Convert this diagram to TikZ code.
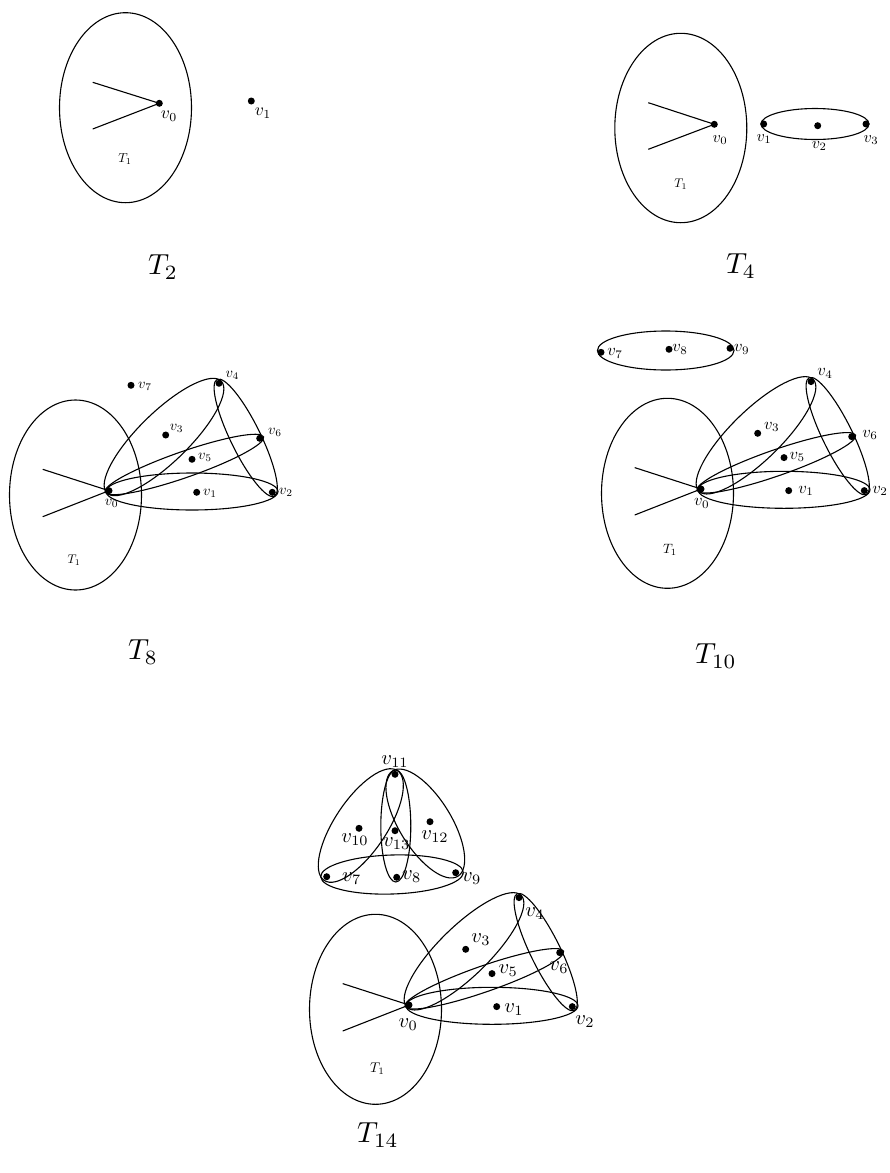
\documentclass[tikz,border=0pt]{standalone}
\usetikzlibrary{calc}

\tikzset{
  dot/.style={circle, fill=black, inner sep=0pt, minimum size=7pt},
  hedge/.style={line width=1.1pt},
  lab/.style={inner sep=0pt, font=\normalsize, scale=#1/10, transform shape},
  lab/.default=16.5,
  tname/.style={inner sep=0pt, font=\normalsize, scale=2.9, transform shape},
}

\begin{document}
\begin{tikzpicture}[x=1pt, y=-1pt]
\useasboundingbox (0,0) rectangle (890,1173);

% T2
\draw[hedge] (125.5,107.7) ellipse (66 and 95);
\node[dot] (p0) at (159.3,103.3) {};
\coordinate (pa) at (92.7,82.3);
\coordinate (pb) at (92.7,129);
\draw[hedge] (pa) -- (p0.center) -- (pb);
\node[dot] (p1) at (251.3,101) {};
\node[lab=17.5] (lp0) at (169,116) {$v_0$};
\node[lab=17.5] (lp1) at (263,113.3) {$v_1$};
\node[lab=13] (tp) at (125,159.3) {$T_1$};
\node[tname] (cap2) at (163,267) {$T_2$};

% T4
\draw[hedge] (680.8,128) ellipse (66 and 94.7);
\node[dot] (q0) at (714.3,124.3) {};
\coordinate (qa) at (648.3,102.7);
\coordinate (qb) at (648.3,149.3);
\draw[hedge] (qa) -- (q0.center) -- (qb);
\draw[hedge] (815,124) ellipse (54 and 15.5);
\node[dot] (q1) at (763.7,124) {};
\node[dot] (q2) at (817.7,125.7) {};
\node[dot] (q3) at (866,124) {};
\node[lab=16] (lq0) at (720,140) {$v_0$};
\node[lab=16] (lq1) at (764,139.3) {$v_1$};
\node[lab=16] (lq2) at (819.3,146) {$v_2$};
\node[lab=16] (lq3) at (871,140) {$v_3$};
\node[lab=12.5] (tq) at (680.7,184) {$T_1$};
\node[tname] (cap4) at (741,266) {$T_4$};

% the part shared by T8, T10 and T14
\foreach \nm/\sx/\sy in {a/0/0, b/592/-1.7, c/300/514.3}{
  \begin{scope}[shift={(\sx,\sy)}]
    \draw[hedge] (75.5,495) ellipse (66 and 95);
    \node[dot] (\nm0) at (109,490.7) {};
    \node[dot] (\nm1) at (196.7,492.3) {};
    \node[dot] (\nm2) at (272.3,492.3) {};
    \node[dot] (\nm3) at (165.7,435) {};
    \node[dot] (\nm4) at (219,383.3) {};
    \node[dot] (\nm5) at (192,459.3) {};
    \node[dot] (\nm6) at (259.7,438.3) {};
    \coordinate (\nm-a) at (42.7,469.3);
    \coordinate (\nm-b) at (42.7,516.7);
    \draw[hedge] (\nm-a) -- (\nm0.center) -- (\nm-b);
    \draw[hedge, shift={(192,491.5)}] (0,0) ellipse (86 and 18.5);
    \draw[hedge, shift={(164,437)}, rotate=44.3] (0,0) ellipse (80 and 25);
    \draw[hedge, shift={(245.7,437.8)}, rotate=-63.9] (0,0) ellipse (65 and 15);
    \draw[hedge, shift={(184.3,464.5)}, rotate=19.2] (0,0) ellipse (84 and 13);
  \end{scope}
}

% T8
\node[dot] (a7) at (131,385.3) {};
\node[lab=14.5] (la0) at (111.7,503.3) {$v_0$};
\node[lab=14.5] (la1) at (210,493.3) {$v_1$};
\node[lab=14.5] (la2) at (286,492.3) {$v_2$};
\node[lab=14.5] (la3) at (176.7,428.3) {$v_3$};
\node[lab=14.5] (la4) at (232.3,375) {$v_4$};
\node[lab=14.5] (la5) at (205,457.3) {$v_5$};
\node[lab=14.5] (la6) at (275,432.7) {$v_6$};
\node[lab=14.5] (la7) at (145,386) {$v_7$};
\node[lab=12.5] (ta) at (74,560) {$T_1$};
\node[tname] (cap8) at (143,652) {$T_8$};

% T10
\draw[hedge] (665.7,350.5) ellipse (68.3 and 19.5);
\node[dot] (b7) at (601,352.3) {};
\node[dot] (b8) at (669,349.3) {};
\node[dot] (b9) at (730,348.3) {};
\node[lab] (lb0) at (701.7,503.3) {$v_0$};
\node[lab] (lb1) at (806,490.7) {$v_1$};
\node[lab] (lb2) at (880,490.7) {$v_2$};
\node[lab] (lb3) at (771.7,426.7) {$v_3$};
\node[lab] (lb4) at (825,373.3) {$v_4$};
\node[lab] (lb5) at (797.3,456.7) {$v_5$};
\node[lab] (lb6) at (870,435) {$v_6$};
\node[lab] (lb7) at (615,353.3) {$v_7$};
\node[lab] (lb8) at (680,349.3) {$v_8$};
\node[lab] (lb9) at (741.7,349.3) {$v_9$};
\node[lab=13.5] (tb) at (670,550) {$T_1$};
\node[tname] (cap10) at (716,656) {$T_{10}$};

% T14
\draw[hedge, shift={(392,874.5)}, rotate=1.8] (0,0) ellipse (71.3 and 19.5);
\draw[hedge, shift={(395.8,826)}, rotate=90] (0,0) ellipse (56 and 15);
\draw[hedge, shift={(360.8,825.5)}, rotate=56.3] (0,0) ellipse (66 and 26);
\draw[hedge, shift={(425.3,823.5)}, rotate=-58.3] (0,0) ellipse (62 and 26);
\node[dot] (c7) at (326.7,876.7) {};
\node[dot] (c8) at (396.7,877.3) {};
\node[dot] (c9) at (455.7,872.7) {};
\node[dot] (c10) at (359,828.3) {};
\node[dot] (c11) at (395,774.3) {};
\node[dot] (c12) at (430,821.7) {};
\node[dot] (c13) at (395,830.7) {};
\node[lab=20.5] (lc0) at (408.3,1025) {$v_0$};
\node[lab=20.5] (lc1) at (514,1009.3) {$v_1$};
\node[lab=20.5] (lc2) at (585,1021.7) {$v_2$};
\node[lab=20.5] (lc3) at (481,940) {$v_3$};
\node[lab=20.5] (lc4) at (535,913.3) {$v_4$};
\node[lab=20.5] (lc5) at (508.3,970.7) {$v_5$};
\node[lab=20.5] (lc6) at (559,967.3) {$v_6$};
\node[lab=20.5] (lc7) at (351.7,878.3) {$v_7$};
\node[lab=20.5] (lc8) at (411.7,876.7) {$v_8$};
\node[lab=20.5] (lc9) at (471.7,878.3) {$v_9$};
\node[lab=20.5] (lc10) at (355,839.3) {$v_{10}$};
\node[lab=20.5] (lc11) at (395,761.7) {$v_{11}$};
\node[lab=20.5] (lc12) at (435,836.7) {$v_{12}$};
\node[lab=20.5] (lc13) at (396.7,843.3) {$v_{13}$};
\node[lab=14] (tc) at (377.3,1068.3) {$T_1$};
\node[tname] (cap14) at (378,1135) {$T_{14}$};

\end{tikzpicture}
\end{document}
